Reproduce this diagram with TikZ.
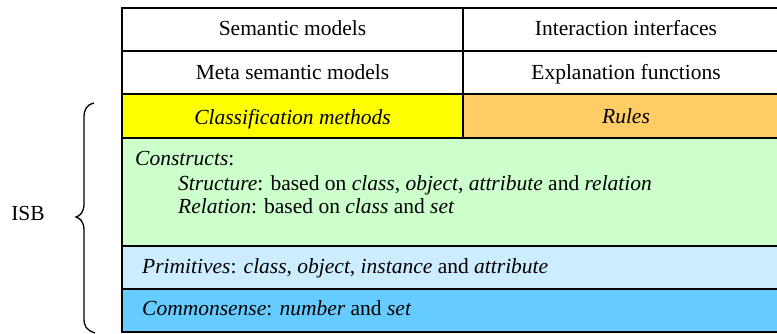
\documentclass[tikz,border=0pt]{standalone}
\usepackage{fontspec}
\setmainfont{LiberationSerif}[Extension=.ttf,UprightFont=*-Regular,ItalicFont=*-Italic,BoldFont=*-Bold,BoldItalicFont=*-BoldItalic]
\begin{document}
\begin{tikzpicture}[x=1pt,y=-1pt,
  cell/.style={draw=black,line width=2pt},
  txt/.style={font=\fontsize{21.5}{24}\selectfont,inner sep=0pt},
  cyellow/.style={fill={rgb,255:red,255;green,255;blue,0}},
  corange/.style={fill={rgb,255:red,255;green,204;blue,102}},
  cgreen/.style={fill={rgb,255:red,204;green,255;blue,204}},
  clblue/.style={fill={rgb,255:red,204;green,236;blue,255}},
  cblue/.style={fill={rgb,255:red,102;green,204;blue,255}}]
\useasboundingbox (0,0) rectangle (777,334);
% rows
\draw[cell,fill=white] (122,8) rectangle (463,51);
\draw[cell,fill=white] (463,8) rectangle (790,51);
\draw[cell,fill=white] (122,51) rectangle (463,94);
\draw[cell,fill=white] (463,51) rectangle (790,94);
\draw[cell,cyellow] (122,94) rectangle (463,138);
\draw[cell,corange] (463,94) rectangle (790,138);
\draw[cell,cgreen] (122,138) rectangle (790,246);
\draw[cell,clblue] (122,246) rectangle (790,289);
\draw[cell,cblue] (122,289) rectangle (790,332);
% texts
\node[txt,anchor=base] (sm) at (292.5,36) {Semantic models};
\node[txt,anchor=base] (ii) at (626,36) {Interaction interfaces};
\node[txt,anchor=base] (msm) at (292.5,80) {Meta semantic models};
\node[txt,anchor=base] (ef) at (626,80) {Explanation functions};
\node[txt,anchor=base] (cm) at (292.5,124.5) {\itshape Classification methods};
\node[txt,anchor=base] (ru) at (626,123.5) {\itshape Rules};
\node[txt,anchor=base west] (co) at (135,166) {\textit{Constructs}:};
\node[txt,anchor=base west] (st) at (178,190) {\textit{Structure}: based on \textit{class}, \textit{object}, \textit{attribute} and \textit{relation}};
\node[txt,anchor=base west] (re) at (178,214) {\textit{Relation}: based on \textit{class} and \textit{set}};
\node[txt,anchor=base west] (pr) at (142,273) {\textit{Primitives}: \textit{class}, \textit{object}, \textit{instance} and \textit{attribute}};
\node[txt,anchor=base west] (cs) at (142,315.5) {\textit{Commonsense}: \textit{number} and \textit{set}};
% brace
\node[txt,anchor=base] (isb) at (28,220) {ISB};
\draw[line width=1.3pt] (94,103) .. controls (86,105) and (84,110) .. (84,118)
  -- (84,204) .. controls (84,212) and (80,216) .. (76,217)
  .. controls (80,218) and (84,222) .. (84,230)
  -- (84,318) .. controls (84,326) and (86,330) .. (95,333);
\end{tikzpicture}
\end{document}
